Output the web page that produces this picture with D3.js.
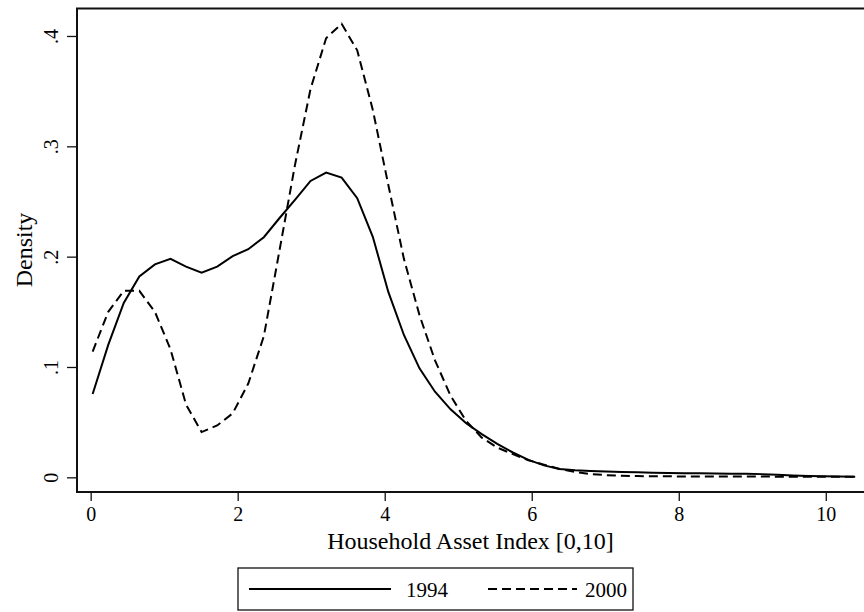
<!DOCTYPE html>
<html>
<head>
<meta charset="utf-8">
<script src="https://cdn.jsdelivr.net/npm/d3@7/dist/d3.min.js"></script>
<style>
  body { margin: 0; background: #fff; }
  svg text { font-family: "Liberation Serif", "Times New Roman", serif; fill: #000; }
</style>
</head>
<body>
<div id="chart"></div>
<script>
// kernel density evaluation grid
const gridX = [0.027, 0.239, 0.450, 0.662, 0.874, 1.086, 1.297, 1.509, 1.721, 1.932,
  2.144, 2.356, 2.567, 2.779, 2.991, 3.203, 3.414, 3.626, 3.838, 4.049,
  4.261, 4.473, 4.684, 4.896, 5.108, 5.320, 5.531, 5.743, 5.955, 6.166,
  6.378, 6.590, 6.801, 7.013, 7.225, 7.436, 7.648, 7.860, 8.072, 8.283,
  8.495, 8.707, 8.918, 9.130, 9.342, 9.553, 9.765, 9.977, 10.188, 10.400];

const density1994 = [0.0755, 0.120, 0.158, 0.182, 0.193, 0.198, 0.191, 0.1855, 0.191, 0.2005,
  0.2067, 0.2176, 0.2348, 0.2514, 0.2686, 0.2762, 0.2716, 0.253, 0.218, 0.168,
  0.129, 0.0988, 0.0776, 0.0616, 0.049, 0.0392, 0.0303, 0.0225, 0.0158, 0.0108,
  0.0075, 0.0064, 0.0057, 0.0052, 0.0048, 0.0045, 0.0042, 0.0039, 0.0037, 0.0036,
  0.0034, 0.0032, 0.0033, 0.0029, 0.0023, 0.0016, 0.0012, 0.0009, 0.0007, 0.0005];

const density2000 = [0.114, 0.150, 0.169, 0.169, 0.150, 0.116, 0.066, 0.041, 0.047, 0.058,
  0.085, 0.128, 0.205, 0.283, 0.352, 0.398, 0.411, 0.387, 0.333, 0.265,
  0.198, 0.147, 0.106, 0.074, 0.051, 0.036, 0.027, 0.021, 0.0155, 0.0115,
  0.0075, 0.0048, 0.003, 0.002, 0.0014, 0.0011, 0.001, 0.0009, 0.0008, 0.0008,
  0.0008, 0.0007, 0.0007, 0.0007, 0.0006, 0.0006, 0.0006, 0.0005, 0.0005, 0.0005];

const xTicks = [0, 2, 4, 6, 8, 10];
const yTicks = [0, 0.1, 0.2, 0.3, 0.4];
const yTickLabels = ["0", ".1", ".2", ".3", ".4"];
const seriesNames = ["1994", "2000"];

var width = 864, height = 612;
var frame = { left: 77, top: 8.5, right: 866, bottom: 492 };

var svg = d3.select("#chart").append("svg")
  .attr("width", width)
  .attr("height", height);

var x = d3.scaleLinear().domain([-0.186, 10.52]).range([frame.left, 864]);
var y = d3.scaleLinear().domain([-0.0133, 0.4249]).range([frame.bottom, frame.top]);

// plot frame
svg.append("rect")
  .attr("x", frame.left)
  .attr("y", frame.top)
  .attr("width", frame.right - frame.left)
  .attr("height", frame.bottom - frame.top)
  .attr("fill", "none")
  .attr("stroke", "#111")
  .attr("stroke-width", 2);

// x axis
var xAxis = svg.append("g")
  .attr("transform", "translate(0," + frame.bottom + ")")
  .call(d3.axisBottom(x).tickValues(xTicks).tickSize(9).tickSizeOuter(0).tickPadding(6));
xAxis.select(".domain").remove();
xAxis.selectAll("line").attr("stroke", "#111").attr("stroke-width", 1.3);
xAxis.selectAll("text").attr("font-size", 20);

// y axis, labels turned sideways like the original
var yAxis = svg.append("g")
  .attr("transform", "translate(" + frame.left + ",0)")
  .call(d3.axisLeft(y).tickValues(yTicks).tickSize(10).tickSizeOuter(0)
    .tickFormat((d, i) => yTickLabels[i]));
yAxis.select(".domain").remove();
yAxis.selectAll("line").attr("stroke", "#111").attr("stroke-width", 1.3);
yAxis.selectAll("text")
  .attr("font-size", 20)
  .attr("text-anchor", "middle")
  .attr("x", 0)
  .attr("y", 0)
  .attr("dy", null)
  .attr("transform", "translate(-19,0) rotate(-90)");

// axis titles
svg.append("text")
  .attr("x", (frame.left + 864) / 2)
  .attr("y", 549)
  .attr("text-anchor", "middle")
  .attr("font-size", 24)
  .text("Household Asset Index [0,10]");

svg.append("text")
  .attr("transform", "translate(32,250) rotate(-90)")
  .attr("text-anchor", "middle")
  .attr("font-size", 24)
  .text("Density");

// density curves
var line = d3.line()
  .x((d, i) => x(gridX[i]))
  .y(d => y(d));

svg.append("path")
  .datum(density1994)
  .attr("d", line)
  .attr("fill", "none")
  .attr("stroke", "#000")
  .attr("stroke-width", 2);

svg.append("path")
  .datum(density2000)
  .attr("d", line)
  .attr("fill", "none")
  .attr("stroke", "#000")
  .attr("stroke-width", 2)
  .attr("stroke-dasharray", "9,5");

// legend
var legend = svg.append("g");
legend.append("rect")
  .attr("x", 238)
  .attr("y", 568)
  .attr("width", 395)
  .attr("height", 42)
  .attr("fill", "none")
  .attr("stroke", "#111")
  .attr("stroke-width", 1.3);

legend.append("line")
  .attr("x1", 249).attr("x2", 391)
  .attr("y1", 589).attr("y2", 589)
  .attr("stroke", "#000").attr("stroke-width", 2);
legend.append("text")
  .attr("x", 406).attr("y", 597)
  .attr("font-size", 21)
  .text(seriesNames[0]);

legend.append("line")
  .attr("x1", 488).attr("x2", 577)
  .attr("y1", 589).attr("y2", 589)
  .attr("stroke", "#000").attr("stroke-width", 2)
  .attr("stroke-dasharray", "9,5");
legend.append("text")
  .attr("x", 585).attr("y", 597)
  .attr("font-size", 21)
  .text(seriesNames[1]);
</script>
</body>
</html>
